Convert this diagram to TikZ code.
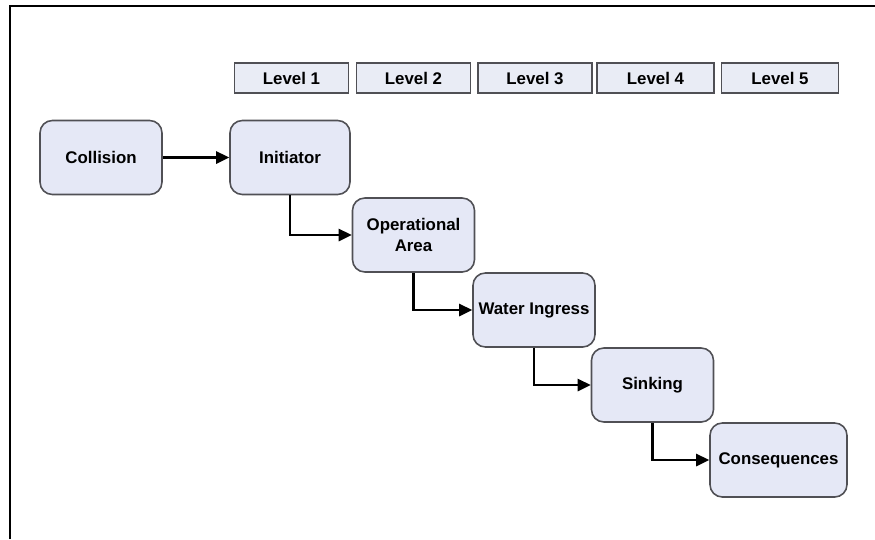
\documentclass[tikz,border=0pt]{standalone}
\usepackage{fontspec}
\setmainfont{Liberation Sans}
\usepackage{tikz}
\usetikzlibrary{arrows.meta,positioning}
\definecolor{boxfill}{RGB}{229,232,246}
\definecolor{lvlfill}{RGB}{233,236,245}
\definecolor{boxline}{RGB}{80,80,85}
\tikzset{stage/.style={draw=boxline,line width=0.9pt,rounded corners=7pt,align=center,fill=boxfill,
    minimum width=2.44cm,minimum height=1.48cm,inner sep=2pt,font=\bfseries\fontsize{9.6}{11.5}\selectfont},
  lvl/.style={draw=boxline,line width=0.9pt,fill=lvlfill,minimum width=2.28cm,minimum height=0.6cm,
    inner sep=1pt,font=\bfseries\fontsize{9.6}{11.5}\selectfont},
  arr/.style={-{Triangle[length=2.6mm,width=2.4mm]},line width=1.5pt}}
\begin{document}
\begin{tikzpicture}[x=0.02cm,y=-0.02cm]
\useasboundingbox (0,0) rectangle (875,539);
\fill[white] (0,0) rectangle (875,539);
\draw[line width=0.9pt] (10,539) -- (10,6) -- (875,6);
% levels
\node[lvl] (l1) at (291.5,78) {Level 1};
\node[lvl] (l2) at (413.5,78) {Level 2};
\node[lvl] (l3) at (535,78) {Level 3};
\node[lvl,minimum width=2.34cm] (l4) at (655.5,78) {Level 4};
\node[lvl,minimum width=2.34cm] (l5) at (780,78) {Level 5};
% stages
\node[stage] (coll) at (101,157.5) {Collision};
\node[stage,minimum width=2.4cm] (init) at (290,157.5) {Initiator};
\node[stage] (oper) at (413.5,235) {Operational\\Area};
\node[stage] (water) at (534,310) {Water Ingress};
\node[stage] (sink) at (652.5,385) {Sinking};
\node[stage,minimum width=2.74cm] (cons) at (778.5,460) {Consequences};
\draw[arr] (coll) -- (init);
\draw[arr] (init.south) |- (oper.west);
\draw[arr] (oper.south) |- (water.west);
\draw[arr] (water.south) |- (sink.west);
\draw[arr] (sink.south) |- (cons.west);
\end{tikzpicture}
\end{document}
